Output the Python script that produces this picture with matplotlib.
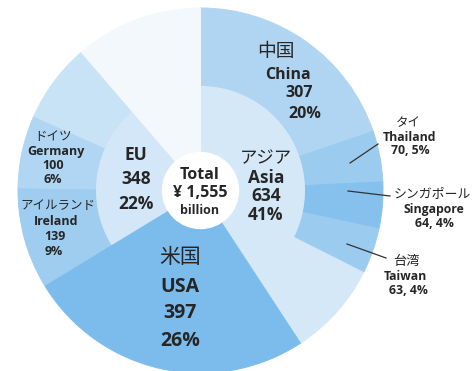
import matplotlib
matplotlib.use("Agg")
import matplotlib.pyplot as plt

# Export destinations, ¥ billion
regions = ["アジア\nAsia", "米国\nUSA", "EU", "Other"]
region_values = [634, 397, 348, 176]

outer_names = ["China", "Thailand", "Singapore", "Taiwan", "Other Asia",
               "USA", "Ireland", "Germany", "Other EU", "Other"]
outer_values = [307, 70, 64, 63, 130, 397, 139, 100, 109, 176]

total = sum(region_values)

inner_colors = ["#d5e8f8", "#7cbced", "#d3e7f8", "#f3f8fd"]
outer_colors = ["#afd5f2", "#9ccbf0", "#86c1ee", "#9ccbf0", "#d5e8f8",
                "#7cbced", "#9ecdf0", "#b0d6f3", "#c8e2f6", "#f3f8fd"]

W, H = 474, 371
cx, cy = 200.5, 190.5
R_OUT, R_MID, R_HOLE = 182.5, 104, 38

fig = plt.figure(figsize=(W / 100, H / 100), dpi=100)
ax = fig.add_axes([0, 0, 1, 1])
ax.axis("off")

outer_w, _ = ax.pie(outer_values, radius=R_OUT, colors=outer_colors,
                    startangle=90, counterclock=False,
                    wedgeprops=dict(width=R_OUT - R_MID))
inner_w, _ = ax.pie(region_values, radius=R_MID, colors=inner_colors,
                    startangle=90, counterclock=False,
                    wedgeprops=dict(width=R_MID - R_HOLE))
# Outline each wedge in its own colour so same-coloured rings join seamlessly
for w in list(outer_w) + list(inner_w):
    w.set_edgecolor(w.get_facecolor())
    w.set_linewidth(0.7)

ax.add_patch(plt.Circle((0, 0), R_HOLE, color="white", zorder=3))
ax.set_xlim(-cx, W - cx)
ax.set_ylim(-(H - cy), cy)
ax.set_aspect("equal")

LAT = ["Open Sans", "Noto Sans CJK JP", "DejaVu Sans"]
JP = ["Noto Sans CJK JP", "DejaVu Sans"]
TXT = "#262626"


def put(px, py, s, size, bold=True, jp=False, ha="center"):
    ax.text(px - cx, cy - py, s, fontsize=size, ha=ha, va="center",
            family=JP if jp else LAT, fontweight="bold" if bold else "normal",
            color=TXT, zorder=5)


def pct(v):
    return f"{round(100 * v / total)}%"


# Centre
put(200, 175, "Total", 11.5)
put(200, 193, f"¥ {total:,}", 11.5)
put(200, 211, "billion", 9)

# Asia
asia = region_values[0]
put(266, 158, "アジア", 12.5, bold=False, jp=True)
put(266, 178, "Asia", 12.5)
put(266, 196, f"{asia}", 12.5)
put(266, 215, pct(asia), 12.5)

# China
china = outer_values[0]
put(276, 52, "中国", 13.5, bold=False, jp=True)
put(288, 75, "China", 11.5)
put(299, 93, f"{china}", 11.5)
put(305, 114, pct(china), 11.5)

# USA
usa = region_values[1]
put(180, 257, "米国", 15, bold=False, jp=True)
put(180, 287, "USA", 14)
put(180, 313, f"{usa}", 14)
put(180, 341, pct(usa), 14)

# EU
eu = region_values[2]
put(136, 155, "EU", 12.5)
put(136, 179, f"{eu}", 12.5)
put(136, 204, pct(eu), 12.5)

# Germany / Ireland
ger = outer_values[7]
put(53, 137, "ドイツ", 9, bold=False, jp=True)
put(56, 152, "Germany", 9)
put(53, 166, f"{ger}", 9)
put(53, 180, pct(ger), 9)

ire = outer_values[6]
put(58, 206, "アイルランド", 9, bold=False, jp=True)
put(56, 222, "Ireland", 9)
put(55, 237, f"{ire}", 9)
put(54, 252, pct(ire), 9)

# Small Asian partners with leader lines
tha, sgp, twn = outer_values[1], outer_values[2], outer_values[3]
put(408, 123, "タイ", 9, bold=False, jp=True)
put(410, 138, "Thailand", 8.8)
put(410, 151, f"{tha}, {pct(tha)}", 8.8)

put(432, 194, "シンガポール", 9.3, bold=False, jp=True)
put(434, 210, "Singapore", 8.8)
put(434, 224, f"{sgp}, {pct(sgp)}", 8.8)

put(406, 261, "台湾", 9.5, bold=False, jp=True)
put(405, 277, "Taiwan", 8.8)
put(408, 291, f"{twn}, {pct(twn)}", 8.8)

for (x0, y0), (x1, y1) in [((350, 163), (378, 144)),
                           ((348, 191), (390, 196)),
                           ((347, 244), (386, 258))]:
    ax.plot([x0 - cx, x1 - cx], [cy - y0, cy - y1], color="#333333",
            lw=0.9, zorder=5)

fig.savefig("out.png", dpi=100)
